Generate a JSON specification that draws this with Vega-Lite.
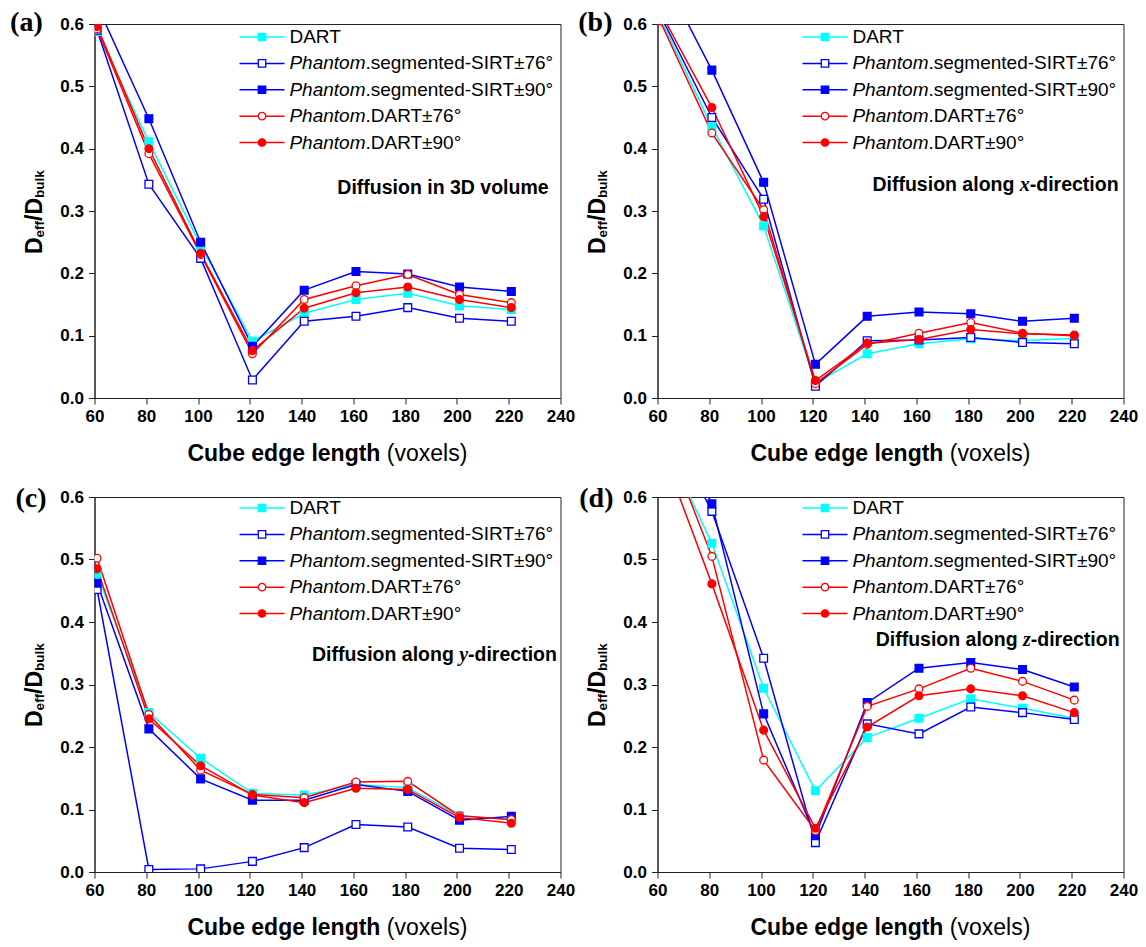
{
"$schema": "https://vega.github.io/schema/vega-lite/v6.json",
"background": "white",
"padding": {"left": 9.5, "top": 8, "right": 5, "bottom": 5},
"config": {
 "view": {"stroke": "#222", "strokeWidth": 1},
 "axis": {"domainColor": "#222", "tickColor": "#222", "labelFont": "Liberation Sans", "labelFontWeight": "bold", "labelFontSize": 17, "labelColor": "#000", "grid": false},
 "text": {"font": "Liberation Sans", "color": "#000"}
},
"datasets": {
 "main": [
  {"panel":"a","series":"DART","x":61,"v":0.588},{"panel":"a","series":"DART","x":81,"v":0.411},{"panel":"a","series":"DART","x":101,"v":0.245},{"panel":"a","series":"DART","x":121,"v":0.091},{"panel":"a","series":"DART","x":141,"v":0.136},{"panel":"a","series":"DART","x":161,"v":0.158},{"panel":"a","series":"DART","x":181,"v":0.168},{"panel":"a","series":"DART","x":201,"v":0.148},{"panel":"a","series":"DART","x":221,"v":0.142},
  {"panel":"a","series":"Phantom.segmented-SIRT±76°","x":61,"v":0.59},{"panel":"a","series":"Phantom.segmented-SIRT±76°","x":81,"v":0.343},{"panel":"a","series":"Phantom.segmented-SIRT±76°","x":101,"v":0.224},{"panel":"a","series":"Phantom.segmented-SIRT±76°","x":121,"v":0.029},{"panel":"a","series":"Phantom.segmented-SIRT±76°","x":141,"v":0.123},{"panel":"a","series":"Phantom.segmented-SIRT±76°","x":161,"v":0.131},{"panel":"a","series":"Phantom.segmented-SIRT±76°","x":181,"v":0.145},{"panel":"a","series":"Phantom.segmented-SIRT±76°","x":201,"v":0.128},{"panel":"a","series":"Phantom.segmented-SIRT±76°","x":221,"v":0.123},
  {"panel":"a","series":"Phantom.segmented-SIRT±90°","x":61,"v":0.63},{"panel":"a","series":"Phantom.segmented-SIRT±90°","x":81,"v":0.448},{"panel":"a","series":"Phantom.segmented-SIRT±90°","x":101,"v":0.25},{"panel":"a","series":"Phantom.segmented-SIRT±90°","x":121,"v":0.083},{"panel":"a","series":"Phantom.segmented-SIRT±90°","x":141,"v":0.173},{"panel":"a","series":"Phantom.segmented-SIRT±90°","x":161,"v":0.203},{"panel":"a","series":"Phantom.segmented-SIRT±90°","x":181,"v":0.199},{"panel":"a","series":"Phantom.segmented-SIRT±90°","x":201,"v":0.178},{"panel":"a","series":"Phantom.segmented-SIRT±90°","x":221,"v":0.171},
  {"panel":"a","series":"Phantom.DART±76°","x":61,"v":0.592},{"panel":"a","series":"Phantom.DART±76°","x":81,"v":0.392},{"panel":"a","series":"Phantom.DART±76°","x":101,"v":0.23},{"panel":"a","series":"Phantom.DART±76°","x":121,"v":0.071},{"panel":"a","series":"Phantom.DART±76°","x":141,"v":0.158},{"panel":"a","series":"Phantom.DART±76°","x":161,"v":0.18},{"panel":"a","series":"Phantom.DART±76°","x":181,"v":0.198},{"panel":"a","series":"Phantom.DART±76°","x":201,"v":0.166},{"panel":"a","series":"Phantom.DART±76°","x":221,"v":0.153},
  {"panel":"a","series":"Phantom.DART±90°","x":61,"v":0.596},{"panel":"a","series":"Phantom.DART±90°","x":81,"v":0.4},{"panel":"a","series":"Phantom.DART±90°","x":101,"v":0.232},{"panel":"a","series":"Phantom.DART±90°","x":121,"v":0.076},{"panel":"a","series":"Phantom.DART±90°","x":141,"v":0.144},{"panel":"a","series":"Phantom.DART±90°","x":161,"v":0.169},{"panel":"a","series":"Phantom.DART±90°","x":181,"v":0.178},{"panel":"a","series":"Phantom.DART±90°","x":201,"v":0.158},{"panel":"a","series":"Phantom.DART±90°","x":221,"v":0.145},

  {"panel":"b","series":"DART","x":61,"v":0.61},{"panel":"b","series":"DART","x":81,"v":0.435},{"panel":"b","series":"DART","x":101,"v":0.276},{"panel":"b","series":"DART","x":121,"v":0.024},{"panel":"b","series":"DART","x":141,"v":0.071},{"panel":"b","series":"DART","x":161,"v":0.087},{"panel":"b","series":"DART","x":181,"v":0.095},{"panel":"b","series":"DART","x":201,"v":0.092},{"panel":"b","series":"DART","x":221,"v":0.096},
  {"panel":"b","series":"Phantom.segmented-SIRT±76°","x":61,"v":0.615},{"panel":"b","series":"Phantom.segmented-SIRT±76°","x":81,"v":0.45},{"panel":"b","series":"Phantom.segmented-SIRT±76°","x":101,"v":0.319},{"panel":"b","series":"Phantom.segmented-SIRT±76°","x":121,"v":0.019},{"panel":"b","series":"Phantom.segmented-SIRT±76°","x":141,"v":0.092},{"panel":"b","series":"Phantom.segmented-SIRT±76°","x":161,"v":0.093},{"panel":"b","series":"Phantom.segmented-SIRT±76°","x":181,"v":0.097},{"panel":"b","series":"Phantom.segmented-SIRT±76°","x":201,"v":0.089},{"panel":"b","series":"Phantom.segmented-SIRT±76°","x":221,"v":0.087},
  {"panel":"b","series":"Phantom.segmented-SIRT±90°","x":61,"v":0.687},{"panel":"b","series":"Phantom.segmented-SIRT±90°","x":81,"v":0.526},{"panel":"b","series":"Phantom.segmented-SIRT±90°","x":101,"v":0.346},{"panel":"b","series":"Phantom.segmented-SIRT±90°","x":121,"v":0.054},{"panel":"b","series":"Phantom.segmented-SIRT±90°","x":141,"v":0.131},{"panel":"b","series":"Phantom.segmented-SIRT±90°","x":161,"v":0.138},{"panel":"b","series":"Phantom.segmented-SIRT±90°","x":181,"v":0.135},{"panel":"b","series":"Phantom.segmented-SIRT±90°","x":201,"v":0.123},{"panel":"b","series":"Phantom.segmented-SIRT±90°","x":221,"v":0.128},
  {"panel":"b","series":"Phantom.DART±76°","x":61,"v":0.605},{"panel":"b","series":"Phantom.DART±76°","x":81,"v":0.425},{"panel":"b","series":"Phantom.DART±76°","x":101,"v":0.302},{"panel":"b","series":"Phantom.DART±76°","x":121,"v":0.023},{"panel":"b","series":"Phantom.DART±76°","x":141,"v":0.086},{"panel":"b","series":"Phantom.DART±76°","x":161,"v":0.104},{"panel":"b","series":"Phantom.DART±76°","x":181,"v":0.121},{"panel":"b","series":"Phantom.DART±76°","x":201,"v":0.104},{"panel":"b","series":"Phantom.DART±76°","x":221,"v":0.1},
  {"panel":"b","series":"Phantom.DART±90°","x":61,"v":0.62},{"panel":"b","series":"Phantom.DART±90°","x":81,"v":0.466},{"panel":"b","series":"Phantom.DART±90°","x":101,"v":0.291},{"panel":"b","series":"Phantom.DART±90°","x":121,"v":0.028},{"panel":"b","series":"Phantom.DART±90°","x":141,"v":0.088},{"panel":"b","series":"Phantom.DART±90°","x":161,"v":0.094},{"panel":"b","series":"Phantom.DART±90°","x":181,"v":0.11},{"panel":"b","series":"Phantom.DART±90°","x":201,"v":0.103},{"panel":"b","series":"Phantom.DART±90°","x":221,"v":0.101},

  {"panel":"c","series":"DART","x":61,"v":0.477},{"panel":"c","series":"DART","x":81,"v":0.255},{"panel":"c","series":"DART","x":101,"v":0.182},{"panel":"c","series":"DART","x":121,"v":0.126},{"panel":"c","series":"DART","x":141,"v":0.123},{"panel":"c","series":"DART","x":161,"v":0.14},{"panel":"c","series":"DART","x":181,"v":0.135},{"panel":"c","series":"DART","x":201,"v":0.09},{"panel":"c","series":"DART","x":221,"v":0.084},
  {"panel":"c","series":"Phantom.segmented-SIRT±76°","x":61,"v":0.452},{"panel":"c","series":"Phantom.segmented-SIRT±76°","x":81,"v":0.004},{"panel":"c","series":"Phantom.segmented-SIRT±76°","x":101,"v":0.005},{"panel":"c","series":"Phantom.segmented-SIRT±76°","x":121,"v":0.017},{"panel":"c","series":"Phantom.segmented-SIRT±76°","x":141,"v":0.039},{"panel":"c","series":"Phantom.segmented-SIRT±76°","x":161,"v":0.076},{"panel":"c","series":"Phantom.segmented-SIRT±76°","x":181,"v":0.072},{"panel":"c","series":"Phantom.segmented-SIRT±76°","x":201,"v":0.038},{"panel":"c","series":"Phantom.segmented-SIRT±76°","x":221,"v":0.036},
  {"panel":"c","series":"Phantom.segmented-SIRT±90°","x":61,"v":0.462},{"panel":"c","series":"Phantom.segmented-SIRT±90°","x":81,"v":0.229},{"panel":"c","series":"Phantom.segmented-SIRT±90°","x":101,"v":0.149},{"panel":"c","series":"Phantom.segmented-SIRT±90°","x":121,"v":0.115},{"panel":"c","series":"Phantom.segmented-SIRT±90°","x":141,"v":0.115},{"panel":"c","series":"Phantom.segmented-SIRT±90°","x":161,"v":0.14},{"panel":"c","series":"Phantom.segmented-SIRT±90°","x":181,"v":0.129},{"panel":"c","series":"Phantom.segmented-SIRT±90°","x":201,"v":0.083},{"panel":"c","series":"Phantom.segmented-SIRT±90°","x":221,"v":0.089},
  {"panel":"c","series":"Phantom.DART±76°","x":61,"v":0.502},{"panel":"c","series":"Phantom.DART±76°","x":81,"v":0.252},{"panel":"c","series":"Phantom.DART±76°","x":101,"v":0.163},{"panel":"c","series":"Phantom.DART±76°","x":121,"v":0.124},{"panel":"c","series":"Phantom.DART±76°","x":141,"v":0.119},{"panel":"c","series":"Phantom.DART±76°","x":161,"v":0.144},{"panel":"c","series":"Phantom.DART±76°","x":181,"v":0.145},{"panel":"c","series":"Phantom.DART±76°","x":201,"v":0.09},{"panel":"c","series":"Phantom.DART±76°","x":221,"v":0.084},
  {"panel":"c","series":"Phantom.DART±90°","x":61,"v":0.485},{"panel":"c","series":"Phantom.DART±90°","x":81,"v":0.245},{"panel":"c","series":"Phantom.DART±90°","x":101,"v":0.17},{"panel":"c","series":"Phantom.DART±90°","x":121,"v":0.123},{"panel":"c","series":"Phantom.DART±90°","x":141,"v":0.111},{"panel":"c","series":"Phantom.DART±90°","x":161,"v":0.134},{"panel":"c","series":"Phantom.DART±90°","x":181,"v":0.132},{"panel":"c","series":"Phantom.DART±90°","x":201,"v":0.087},{"panel":"c","series":"Phantom.DART±90°","x":221,"v":0.078},

  {"panel":"d","series":"DART","x":61,"v":0.7},{"panel":"d","series":"DART","x":81,"v":0.526},{"panel":"d","series":"DART","x":101,"v":0.294},{"panel":"d","series":"DART","x":121,"v":0.13},{"panel":"d","series":"DART","x":141,"v":0.215},{"panel":"d","series":"DART","x":161,"v":0.246},{"panel":"d","series":"DART","x":181,"v":0.277},{"panel":"d","series":"DART","x":201,"v":0.262},{"panel":"d","series":"DART","x":221,"v":0.246},
  {"panel":"d","series":"Phantom.segmented-SIRT±76°","x":61,"v":0.74},{"panel":"d","series":"Phantom.segmented-SIRT±76°","x":81,"v":0.577},{"panel":"d","series":"Phantom.segmented-SIRT±76°","x":101,"v":0.342},{"panel":"d","series":"Phantom.segmented-SIRT±76°","x":121,"v":0.047},{"panel":"d","series":"Phantom.segmented-SIRT±76°","x":141,"v":0.237},{"panel":"d","series":"Phantom.segmented-SIRT±76°","x":161,"v":0.221},{"panel":"d","series":"Phantom.segmented-SIRT±76°","x":181,"v":0.264},{"panel":"d","series":"Phantom.segmented-SIRT±76°","x":201,"v":0.255},{"panel":"d","series":"Phantom.segmented-SIRT±76°","x":221,"v":0.244},
  {"panel":"d","series":"Phantom.segmented-SIRT±90°","x":61,"v":0.76},{"panel":"d","series":"Phantom.segmented-SIRT±90°","x":81,"v":0.589},{"panel":"d","series":"Phantom.segmented-SIRT±90°","x":101,"v":0.253},{"panel":"d","series":"Phantom.segmented-SIRT±90°","x":121,"v":0.058},{"panel":"d","series":"Phantom.segmented-SIRT±90°","x":141,"v":0.271},{"panel":"d","series":"Phantom.segmented-SIRT±90°","x":161,"v":0.326},{"panel":"d","series":"Phantom.segmented-SIRT±90°","x":181,"v":0.335},{"panel":"d","series":"Phantom.segmented-SIRT±90°","x":201,"v":0.324},{"panel":"d","series":"Phantom.segmented-SIRT±90°","x":221,"v":0.296},
  {"panel":"d","series":"Phantom.DART±76°","x":61,"v":0.718},{"panel":"d","series":"Phantom.DART±76°","x":81,"v":0.505},{"panel":"d","series":"Phantom.DART±76°","x":101,"v":0.179},{"panel":"d","series":"Phantom.DART±76°","x":121,"v":0.066},{"panel":"d","series":"Phantom.DART±76°","x":141,"v":0.265},{"panel":"d","series":"Phantom.DART±76°","x":161,"v":0.293},{"panel":"d","series":"Phantom.DART±76°","x":181,"v":0.326},{"panel":"d","series":"Phantom.DART±76°","x":201,"v":0.305},{"panel":"d","series":"Phantom.DART±76°","x":221,"v":0.275},
  {"panel":"d","series":"Phantom.DART±90°","x":61,"v":0.683},{"panel":"d","series":"Phantom.DART±90°","x":81,"v":0.461},{"panel":"d","series":"Phantom.DART±90°","x":101,"v":0.227},{"panel":"d","series":"Phantom.DART±90°","x":121,"v":0.07},{"panel":"d","series":"Phantom.DART±90°","x":141,"v":0.232},{"panel":"d","series":"Phantom.DART±90°","x":161,"v":0.282},{"panel":"d","series":"Phantom.DART±90°","x":181,"v":0.293},{"panel":"d","series":"Phantom.DART±90°","x":201,"v":0.282},{"panel":"d","series":"Phantom.DART±90°","x":221,"v":0.255}
 ],
 "legend": [
  {"series":"DART","rest":"DART"},
  {"series":"Phantom.segmented-SIRT±76°","rest":".segmented-SIRT±76°"},
  {"series":"Phantom.segmented-SIRT±90°","rest":".segmented-SIRT±90°"},
  {"series":"Phantom.DART±76°","rest":".DART±76°"},
  {"series":"Phantom.DART±90°","rest":".DART±90°"}
 ]
},
"columns": 2,
"spacing": {"row": 99, "column": 97},
"bounds": "flush",
"concat": [
 {"width": 466, "height": 374, "resolve": {"scale": {"y": "independent"}}, "layer": [
  {"layer": [
   {"data": {"name": "main"}, "transform": [{"filter": "datum.panel == 'a'"}], "mark": {"type": "line", "clip": true, "strokeWidth": 1.5},
    "encoding": {"x": {"field": "x", "type": "quantitative", "scale": {"domain": [60, 240]}, "axis": {"values": [60,80,100,120,140,160,180,200,220,240], "title": null, "tickSize": 6, "labelPadding": 4, "labelFlush": false, "labelOverlap": false}},
     "y": {"field": "v", "type": "quantitative", "scale": {"domain": [0, 0.6]}, "axis": {"values": [0,0.05,0.1,0.15,0.2,0.25,0.3,0.35,0.4,0.45,0.5,0.55,0.6], "title": null, "tickSize": {"condition": {"test": "round(datum.value*20) % 2 == 1", "value": 4}, "value": 6}, "labelExpr": "round(datum.value*20) % 2 == 0 ? format(datum.value, '.1f') : ''", "labelPadding": 5, "labelFlush": false, "labelOverlap": false}},
     "stroke": {"field": "series", "type": "nominal", "scale": {"domain": ["DART","Phantom.segmented-SIRT±76°","Phantom.segmented-SIRT±90°","Phantom.DART±76°","Phantom.DART±90°"], "range": ["#00FFFF","#0000FF","#0000FF","#FF0000","#FF0000"]}, "legend": null}}},
   {"data": {"name": "main"}, "transform": [{"filter": "datum.panel == 'a'"}], "mark": {"type": "point", "clip": true, "filled": true, "size": 60, "strokeWidth": 1.3, "opacity": 1},
    "encoding": {"x": {"field": "x", "type": "quantitative", "scale": {"domain": [60, 240]}},
     "y": {"field": "v", "type": "quantitative", "scale": {"domain": [0, 0.6]}},
     "shape": {"field": "series", "type": "nominal", "scale": {"domain": ["DART","Phantom.segmented-SIRT±76°","Phantom.segmented-SIRT±90°","Phantom.DART±76°","Phantom.DART±90°"], "range": ["square","square","square","circle","circle"]}, "legend": null},
     "fill": {"field": "series", "type": "nominal", "scale": {"domain": ["DART","Phantom.segmented-SIRT±76°","Phantom.segmented-SIRT±90°","Phantom.DART±76°","Phantom.DART±90°"], "range": ["#00FFFF","#FFFFFF","#0000FF","#FFFFFF","#FF0000"]}, "legend": null},
     "stroke": {"field": "series", "type": "nominal", "legend": null}}},
   {"data": {"values": [{}]}, "mark": {"type": "text", "text": "(a)", "font": "Liberation Serif", "fontWeight": "bold", "fontSize": 28, "align": "center", "baseline": "alphabetic"}, "encoding": {"x": {"datum": 33.7, "scale": {"domain": [60, 240]}}, "y": {"datum": 0.588, "scale": {"domain": [0, 0.6]}}}},
   {"data": {"values": [{}]}, "mark": {"type": "text", "text": "Diffusion in 3D volume", "fontWeight": "bold", "fontSize": 19.5, "align": "right", "baseline": "middle"}, "encoding": {"x": {"datum": 235.4, "scale": {"domain": [60, 240]}}, "y": {"datum": 0.337, "scale": {"domain": [0, 0.6]}}}},
   {"data": {"values": [{}]}, "mark": {"type": "text", "text": "D", "angle": 270, "fontWeight": "bold", "fontSize": 23, "align": "left", "baseline": "alphabetic"}, "encoding": {"x": {"datum": 39.8, "scale": {"domain": [60, 240]}}, "y": {"datum": 0.231, "scale": {"domain": [0, 0.6]}}}},
   {"data": {"values": [{}]}, "mark": {"type": "text", "text": "eff", "angle": 270, "fontWeight": "bold", "fontSize": 13.5, "align": "left", "baseline": "alphabetic"}, "encoding": {"x": {"datum": 40.45, "scale": {"domain": [60, 240]}}, "y": {"datum": 0.2576, "scale": {"domain": [0, 0.6]}}}},
   {"data": {"values": [{}]}, "mark": {"type": "text", "text": "/D", "angle": 270, "fontWeight": "bold", "fontSize": 23, "align": "left", "baseline": "alphabetic"}, "encoding": {"x": {"datum": 39.8, "scale": {"domain": [60, 240]}}, "y": {"datum": 0.2841, "scale": {"domain": [0, 0.6]}}}},
   {"data": {"values": [{}]}, "mark": {"type": "text", "text": "bulk", "angle": 270, "fontWeight": "bold", "fontSize": 13.5, "align": "left", "baseline": "alphabetic"}, "encoding": {"x": {"datum": 40.45, "scale": {"domain": [60, 240]}}, "y": {"datum": 0.321, "scale": {"domain": [0, 0.6]}}}},
   {"data": {"values": [{}]}, "mark": {"type": "text", "text": "Cube edge length", "fontWeight": "bold", "fontSize": 23, "align": "left", "baseline": "alphabetic"}, "encoding": {"x": {"datum": 95.9, "scale": {"domain": [60, 240]}}, "y": {"datum": -0.1003, "scale": {"domain": [0, 0.6]}}}},
   {"data": {"values": [{}]}, "mark": {"type": "text", "text": "(voxels)", "fontWeight": "normal", "fontSize": 23, "align": "left", "baseline": "alphabetic"}, "encoding": {"x": {"datum": 172.9, "scale": {"domain": [60, 240]}}, "y": {"datum": -0.1003, "scale": {"domain": [0, 0.6]}}}}
  ]},
  {"data": {"name": "legend"}, "layer": [
   {"mark": {"type": "rule", "strokeWidth": 1.5}, "encoding": {"x": {"datum": 116, "scale": {"domain": [60, 240]}}, "x2": {"datum": 133.4}, "y": {"field": "series", "type": "nominal", "scale": {"type": "point", "domain": ["DART","Phantom.segmented-SIRT±76°","Phantom.segmented-SIRT±90°","Phantom.DART±76°","Phantom.DART±90°"], "range": [13, 118.5], "padding": 0}, "axis": null}, "stroke": {"field": "series", "type": "nominal", "legend": null}}},
   {"mark": {"type": "point", "filled": true, "size": 55, "strokeWidth": 1.3, "opacity": 1}, "encoding": {"x": {"datum": 124.7, "scale": {"domain": [60, 240]}}, "y": {"field": "series", "type": "nominal", "axis": null}, "shape": {"field": "series", "type": "nominal", "legend": null}, "fill": {"field": "series", "type": "nominal", "legend": null}, "stroke": {"field": "series", "type": "nominal", "legend": null}}},
   {"transform": [{"filter": "datum.series == 'DART'"}], "mark": {"type": "text", "fontSize": 19, "align": "left", "baseline": "middle"}, "encoding": {"x": {"datum": 135.3, "scale": {"domain": [60, 240]}}, "y": {"field": "series", "type": "nominal", "axis": null}, "text": {"field": "rest"}}},
   {"transform": [{"filter": "datum.series != 'DART'"}], "mark": {"type": "text", "text": "Phantom", "fontStyle": "italic", "fontSize": 19, "align": "left", "baseline": "middle"}, "encoding": {"x": {"datum": 135.3, "scale": {"domain": [60, 240]}}, "y": {"field": "series", "type": "nominal", "axis": null}}},
   {"transform": [{"filter": "datum.series != 'DART'"}], "mark": {"type": "text", "fontSize": 19, "align": "left", "baseline": "middle"}, "encoding": {"x": {"datum": 164.66, "scale": {"domain": [60, 240]}}, "y": {"field": "series", "type": "nominal", "axis": null}, "text": {"field": "rest"}}}
  ]}
 ]},
 {"width": 466, "height": 374, "resolve": {"scale": {"y": "independent"}}, "layer": [
  {"layer": [
   {"data": {"name": "main"}, "transform": [{"filter": "datum.panel == 'b'"}], "mark": {"type": "line", "clip": true, "strokeWidth": 1.5},
    "encoding": {"x": {"field": "x", "type": "quantitative", "scale": {"domain": [60, 240]}, "axis": {"values": [60,80,100,120,140,160,180,200,220,240], "title": null, "tickSize": 6, "labelPadding": 4, "labelFlush": false, "labelOverlap": false}},
     "y": {"field": "v", "type": "quantitative", "scale": {"domain": [0, 0.6]}, "axis": {"values": [0,0.05,0.1,0.15,0.2,0.25,0.3,0.35,0.4,0.45,0.5,0.55,0.6], "title": null, "tickSize": {"condition": {"test": "round(datum.value*20) % 2 == 1", "value": 4}, "value": 6}, "labelExpr": "round(datum.value*20) % 2 == 0 ? format(datum.value, '.1f') : ''", "labelPadding": 5, "labelFlush": false, "labelOverlap": false}},
     "stroke": {"field": "series", "type": "nominal", "scale": {"domain": ["DART","Phantom.segmented-SIRT±76°","Phantom.segmented-SIRT±90°","Phantom.DART±76°","Phantom.DART±90°"], "range": ["#00FFFF","#0000FF","#0000FF","#FF0000","#FF0000"]}, "legend": null}}},
   {"data": {"name": "main"}, "transform": [{"filter": "datum.panel == 'b'"}], "mark": {"type": "point", "clip": true, "filled": true, "size": 60, "strokeWidth": 1.3, "opacity": 1},
    "encoding": {"x": {"field": "x", "type": "quantitative", "scale": {"domain": [60, 240]}},
     "y": {"field": "v", "type": "quantitative", "scale": {"domain": [0, 0.6]}},
     "shape": {"field": "series", "type": "nominal", "scale": {"domain": ["DART","Phantom.segmented-SIRT±76°","Phantom.segmented-SIRT±90°","Phantom.DART±76°","Phantom.DART±90°"], "range": ["square","square","square","circle","circle"]}, "legend": null},
     "fill": {"field": "series", "type": "nominal", "scale": {"domain": ["DART","Phantom.segmented-SIRT±76°","Phantom.segmented-SIRT±90°","Phantom.DART±76°","Phantom.DART±90°"], "range": ["#00FFFF","#FFFFFF","#0000FF","#FFFFFF","#FF0000"]}, "legend": null},
     "stroke": {"field": "series", "type": "nominal", "legend": null}}},
   {"data": {"values": [{}]}, "mark": {"type": "text", "text": "(b)", "font": "Liberation Serif", "fontWeight": "bold", "fontSize": 28, "align": "center", "baseline": "alphabetic"}, "encoding": {"x": {"datum": 36.0, "scale": {"domain": [60, 240]}}, "y": {"datum": 0.588, "scale": {"domain": [0, 0.6]}}}},
   {"data": {"values": [{}]}, "mark": {"type": "text", "text": "Diffusion along", "fontWeight": "bold", "fontSize": 19.5, "align": "right", "baseline": "middle"}, "encoding": {"x": {"datum": 197.85, "scale": {"domain": [60, 240]}}, "y": {"datum": 0.342, "scale": {"domain": [0, 0.6]}}}},
   {"data": {"values": [{}]}, "mark": {"type": "text", "text": "x", "font": "Liberation Serif", "fontStyle": "italic", "fontWeight": "bold", "fontSize": 20, "align": "right", "baseline": "middle"}, "encoding": {"x": {"datum": 203.8, "scale": {"domain": [60, 240]}}, "y": {"datum": 0.342, "scale": {"domain": [0, 0.6]}}}},
   {"data": {"values": [{}]}, "mark": {"type": "text", "text": "-direction", "fontWeight": "bold", "fontSize": 19.5, "align": "right", "baseline": "middle"}, "encoding": {"x": {"datum": 238.1, "scale": {"domain": [60, 240]}}, "y": {"datum": 0.342, "scale": {"domain": [0, 0.6]}}}},
   {"data": {"values": [{}]}, "mark": {"type": "text", "text": "D", "angle": 270, "fontWeight": "bold", "fontSize": 23, "align": "left", "baseline": "alphabetic"}, "encoding": {"x": {"datum": 39.8, "scale": {"domain": [60, 240]}}, "y": {"datum": 0.231, "scale": {"domain": [0, 0.6]}}}},
   {"data": {"values": [{}]}, "mark": {"type": "text", "text": "eff", "angle": 270, "fontWeight": "bold", "fontSize": 13.5, "align": "left", "baseline": "alphabetic"}, "encoding": {"x": {"datum": 40.45, "scale": {"domain": [60, 240]}}, "y": {"datum": 0.2576, "scale": {"domain": [0, 0.6]}}}},
   {"data": {"values": [{}]}, "mark": {"type": "text", "text": "/D", "angle": 270, "fontWeight": "bold", "fontSize": 23, "align": "left", "baseline": "alphabetic"}, "encoding": {"x": {"datum": 39.8, "scale": {"domain": [60, 240]}}, "y": {"datum": 0.2841, "scale": {"domain": [0, 0.6]}}}},
   {"data": {"values": [{}]}, "mark": {"type": "text", "text": "bulk", "angle": 270, "fontWeight": "bold", "fontSize": 13.5, "align": "left", "baseline": "alphabetic"}, "encoding": {"x": {"datum": 40.45, "scale": {"domain": [60, 240]}}, "y": {"datum": 0.321, "scale": {"domain": [0, 0.6]}}}},
   {"data": {"values": [{}]}, "mark": {"type": "text", "text": "Cube edge length", "fontWeight": "bold", "fontSize": 23, "align": "left", "baseline": "alphabetic"}, "encoding": {"x": {"datum": 95.9, "scale": {"domain": [60, 240]}}, "y": {"datum": -0.1003, "scale": {"domain": [0, 0.6]}}}},
   {"data": {"values": [{}]}, "mark": {"type": "text", "text": "(voxels)", "fontWeight": "normal", "fontSize": 23, "align": "left", "baseline": "alphabetic"}, "encoding": {"x": {"datum": 172.9, "scale": {"domain": [60, 240]}}, "y": {"datum": -0.1003, "scale": {"domain": [0, 0.6]}}}}
  ]},
  {"data": {"name": "legend"}, "layer": [
   {"mark": {"type": "rule", "strokeWidth": 1.5}, "encoding": {"x": {"datum": 116, "scale": {"domain": [60, 240]}}, "x2": {"datum": 133.4}, "y": {"field": "series", "type": "nominal", "scale": {"type": "point", "domain": ["DART","Phantom.segmented-SIRT±76°","Phantom.segmented-SIRT±90°","Phantom.DART±76°","Phantom.DART±90°"], "range": [13, 118.5], "padding": 0}, "axis": null}, "stroke": {"field": "series", "type": "nominal", "legend": null}}},
   {"mark": {"type": "point", "filled": true, "size": 55, "strokeWidth": 1.3, "opacity": 1}, "encoding": {"x": {"datum": 124.7, "scale": {"domain": [60, 240]}}, "y": {"field": "series", "type": "nominal", "axis": null}, "shape": {"field": "series", "type": "nominal", "legend": null}, "fill": {"field": "series", "type": "nominal", "legend": null}, "stroke": {"field": "series", "type": "nominal", "legend": null}}},
   {"transform": [{"filter": "datum.series == 'DART'"}], "mark": {"type": "text", "fontSize": 19, "align": "left", "baseline": "middle"}, "encoding": {"x": {"datum": 135.3, "scale": {"domain": [60, 240]}}, "y": {"field": "series", "type": "nominal", "axis": null}, "text": {"field": "rest"}}},
   {"transform": [{"filter": "datum.series != 'DART'"}], "mark": {"type": "text", "text": "Phantom", "fontStyle": "italic", "fontSize": 19, "align": "left", "baseline": "middle"}, "encoding": {"x": {"datum": 135.3, "scale": {"domain": [60, 240]}}, "y": {"field": "series", "type": "nominal", "axis": null}}},
   {"transform": [{"filter": "datum.series != 'DART'"}], "mark": {"type": "text", "fontSize": 19, "align": "left", "baseline": "middle"}, "encoding": {"x": {"datum": 164.66, "scale": {"domain": [60, 240]}}, "y": {"field": "series", "type": "nominal", "axis": null}, "text": {"field": "rest"}}}
  ]}
 ]},
 {"width": 466, "height": 375, "resolve": {"scale": {"y": "independent"}}, "layer": [
  {"layer": [
   {"data": {"name": "main"}, "transform": [{"filter": "datum.panel == 'c'"}], "mark": {"type": "line", "clip": true, "strokeWidth": 1.5},
    "encoding": {"x": {"field": "x", "type": "quantitative", "scale": {"domain": [60, 240]}, "axis": {"values": [60,80,100,120,140,160,180,200,220,240], "title": null, "tickSize": 6, "labelPadding": 4, "labelFlush": false, "labelOverlap": false}},
     "y": {"field": "v", "type": "quantitative", "scale": {"domain": [0, 0.6]}, "axis": {"values": [0,0.05,0.1,0.15,0.2,0.25,0.3,0.35,0.4,0.45,0.5,0.55,0.6], "title": null, "tickSize": {"condition": {"test": "round(datum.value*20) % 2 == 1", "value": 4}, "value": 6}, "labelExpr": "round(datum.value*20) % 2 == 0 ? format(datum.value, '.1f') : ''", "labelPadding": 5, "labelFlush": false, "labelOverlap": false}},
     "stroke": {"field": "series", "type": "nominal", "scale": {"domain": ["DART","Phantom.segmented-SIRT±76°","Phantom.segmented-SIRT±90°","Phantom.DART±76°","Phantom.DART±90°"], "range": ["#00FFFF","#0000FF","#0000FF","#FF0000","#FF0000"]}, "legend": null}}},
   {"data": {"name": "main"}, "transform": [{"filter": "datum.panel == 'c'"}], "mark": {"type": "point", "clip": true, "filled": true, "size": 60, "strokeWidth": 1.3, "opacity": 1},
    "encoding": {"x": {"field": "x", "type": "quantitative", "scale": {"domain": [60, 240]}},
     "y": {"field": "v", "type": "quantitative", "scale": {"domain": [0, 0.6]}},
     "shape": {"field": "series", "type": "nominal", "scale": {"domain": ["DART","Phantom.segmented-SIRT±76°","Phantom.segmented-SIRT±90°","Phantom.DART±76°","Phantom.DART±90°"], "range": ["square","square","square","circle","circle"]}, "legend": null},
     "fill": {"field": "series", "type": "nominal", "scale": {"domain": ["DART","Phantom.segmented-SIRT±76°","Phantom.segmented-SIRT±90°","Phantom.DART±76°","Phantom.DART±90°"], "range": ["#00FFFF","#FFFFFF","#0000FF","#FFFFFF","#FF0000"]}, "legend": null},
     "stroke": {"field": "series", "type": "nominal", "legend": null}}},
   {"data": {"values": [{}]}, "mark": {"type": "text", "text": "(c)", "font": "Liberation Serif", "fontWeight": "bold", "fontSize": 28, "align": "center", "baseline": "alphabetic"}, "encoding": {"x": {"datum": 35.5, "scale": {"domain": [60, 240]}}, "y": {"datum": 0.5845, "scale": {"domain": [0, 0.6]}}}},
   {"data": {"values": [{}]}, "mark": {"type": "text", "text": "Diffusion along", "fontWeight": "bold", "fontSize": 19.5, "align": "right", "baseline": "middle"}, "encoding": {"x": {"datum": 198.8, "scale": {"domain": [60, 240]}}, "y": {"datum": 0.348, "scale": {"domain": [0, 0.6]}}}},
   {"data": {"values": [{}]}, "mark": {"type": "text", "text": "y", "font": "Liberation Serif", "fontStyle": "italic", "fontWeight": "bold", "fontSize": 20, "align": "right", "baseline": "middle"}, "encoding": {"x": {"datum": 204.3, "scale": {"domain": [60, 240]}}, "y": {"datum": 0.348, "scale": {"domain": [0, 0.6]}}}},
   {"data": {"values": [{}]}, "mark": {"type": "text", "text": "-direction", "fontWeight": "bold", "fontSize": 19.5, "align": "right", "baseline": "middle"}, "encoding": {"x": {"datum": 238.6, "scale": {"domain": [60, 240]}}, "y": {"datum": 0.348, "scale": {"domain": [0, 0.6]}}}},
   {"data": {"values": [{}]}, "mark": {"type": "text", "text": "D", "angle": 270, "fontWeight": "bold", "fontSize": 23, "align": "left", "baseline": "alphabetic"}, "encoding": {"x": {"datum": 39.8, "scale": {"domain": [60, 240]}}, "y": {"datum": 0.232, "scale": {"domain": [0, 0.6]}}}},
   {"data": {"values": [{}]}, "mark": {"type": "text", "text": "eff", "angle": 270, "fontWeight": "bold", "fontSize": 13.5, "align": "left", "baseline": "alphabetic"}, "encoding": {"x": {"datum": 40.45, "scale": {"domain": [60, 240]}}, "y": {"datum": 0.2586, "scale": {"domain": [0, 0.6]}}}},
   {"data": {"values": [{}]}, "mark": {"type": "text", "text": "/D", "angle": 270, "fontWeight": "bold", "fontSize": 23, "align": "left", "baseline": "alphabetic"}, "encoding": {"x": {"datum": 39.8, "scale": {"domain": [60, 240]}}, "y": {"datum": 0.285, "scale": {"domain": [0, 0.6]}}}},
   {"data": {"values": [{}]}, "mark": {"type": "text", "text": "bulk", "angle": 270, "fontWeight": "bold", "fontSize": 13.5, "align": "left", "baseline": "alphabetic"}, "encoding": {"x": {"datum": 40.45, "scale": {"domain": [60, 240]}}, "y": {"datum": 0.3218, "scale": {"domain": [0, 0.6]}}}},
   {"data": {"values": [{}]}, "mark": {"type": "text", "text": "Cube edge length", "fontWeight": "bold", "fontSize": 23, "align": "left", "baseline": "alphabetic"}, "encoding": {"x": {"datum": 95.9, "scale": {"domain": [60, 240]}}, "y": {"datum": -0.1, "scale": {"domain": [0, 0.6]}}}},
   {"data": {"values": [{}]}, "mark": {"type": "text", "text": "(voxels)", "fontWeight": "normal", "fontSize": 23, "align": "left", "baseline": "alphabetic"}, "encoding": {"x": {"datum": 172.9, "scale": {"domain": [60, 240]}}, "y": {"datum": -0.1, "scale": {"domain": [0, 0.6]}}}}
  ]},
  {"data": {"name": "legend"}, "layer": [
   {"mark": {"type": "rule", "strokeWidth": 1.5}, "encoding": {"x": {"datum": 116, "scale": {"domain": [60, 240]}}, "x2": {"datum": 133.4}, "y": {"field": "series", "type": "nominal", "scale": {"type": "point", "domain": ["DART","Phantom.segmented-SIRT±76°","Phantom.segmented-SIRT±90°","Phantom.DART±76°","Phantom.DART±90°"], "range": [11, 116.5], "padding": 0}, "axis": null}, "stroke": {"field": "series", "type": "nominal", "legend": null}}},
   {"mark": {"type": "point", "filled": true, "size": 55, "strokeWidth": 1.3, "opacity": 1}, "encoding": {"x": {"datum": 124.7, "scale": {"domain": [60, 240]}}, "y": {"field": "series", "type": "nominal", "axis": null}, "shape": {"field": "series", "type": "nominal", "legend": null}, "fill": {"field": "series", "type": "nominal", "legend": null}, "stroke": {"field": "series", "type": "nominal", "legend": null}}},
   {"transform": [{"filter": "datum.series == 'DART'"}], "mark": {"type": "text", "fontSize": 19, "align": "left", "baseline": "middle"}, "encoding": {"x": {"datum": 135.3, "scale": {"domain": [60, 240]}}, "y": {"field": "series", "type": "nominal", "axis": null}, "text": {"field": "rest"}}},
   {"transform": [{"filter": "datum.series != 'DART'"}], "mark": {"type": "text", "text": "Phantom", "fontStyle": "italic", "fontSize": 19, "align": "left", "baseline": "middle"}, "encoding": {"x": {"datum": 135.3, "scale": {"domain": [60, 240]}}, "y": {"field": "series", "type": "nominal", "axis": null}}},
   {"transform": [{"filter": "datum.series != 'DART'"}], "mark": {"type": "text", "fontSize": 19, "align": "left", "baseline": "middle"}, "encoding": {"x": {"datum": 164.66, "scale": {"domain": [60, 240]}}, "y": {"field": "series", "type": "nominal", "axis": null}, "text": {"field": "rest"}}}
  ]}
 ]},
 {"width": 466, "height": 375, "resolve": {"scale": {"y": "independent"}}, "layer": [
  {"layer": [
   {"data": {"name": "main"}, "transform": [{"filter": "datum.panel == 'd'"}], "mark": {"type": "line", "clip": true, "strokeWidth": 1.5},
    "encoding": {"x": {"field": "x", "type": "quantitative", "scale": {"domain": [60, 240]}, "axis": {"values": [60,80,100,120,140,160,180,200,220,240], "title": null, "tickSize": 6, "labelPadding": 4, "labelFlush": false, "labelOverlap": false}},
     "y": {"field": "v", "type": "quantitative", "scale": {"domain": [0, 0.6]}, "axis": {"values": [0,0.05,0.1,0.15,0.2,0.25,0.3,0.35,0.4,0.45,0.5,0.55,0.6], "title": null, "tickSize": {"condition": {"test": "round(datum.value*20) % 2 == 1", "value": 4}, "value": 6}, "labelExpr": "round(datum.value*20) % 2 == 0 ? format(datum.value, '.1f') : ''", "labelPadding": 5, "labelFlush": false, "labelOverlap": false}},
     "stroke": {"field": "series", "type": "nominal", "scale": {"domain": ["DART","Phantom.segmented-SIRT±76°","Phantom.segmented-SIRT±90°","Phantom.DART±76°","Phantom.DART±90°"], "range": ["#00FFFF","#0000FF","#0000FF","#FF0000","#FF0000"]}, "legend": null}}},
   {"data": {"name": "main"}, "transform": [{"filter": "datum.panel == 'd'"}], "mark": {"type": "point", "clip": true, "filled": true, "size": 60, "strokeWidth": 1.3, "opacity": 1},
    "encoding": {"x": {"field": "x", "type": "quantitative", "scale": {"domain": [60, 240]}},
     "y": {"field": "v", "type": "quantitative", "scale": {"domain": [0, 0.6]}},
     "shape": {"field": "series", "type": "nominal", "scale": {"domain": ["DART","Phantom.segmented-SIRT±76°","Phantom.segmented-SIRT±90°","Phantom.DART±76°","Phantom.DART±90°"], "range": ["square","square","square","circle","circle"]}, "legend": null},
     "fill": {"field": "series", "type": "nominal", "scale": {"domain": ["DART","Phantom.segmented-SIRT±76°","Phantom.segmented-SIRT±90°","Phantom.DART±76°","Phantom.DART±90°"], "range": ["#00FFFF","#FFFFFF","#0000FF","#FFFFFF","#FF0000"]}, "legend": null},
     "stroke": {"field": "series", "type": "nominal", "legend": null}}},
   {"data": {"values": [{}]}, "mark": {"type": "text", "text": "(d)", "font": "Liberation Serif", "fontWeight": "bold", "fontSize": 28, "align": "center", "baseline": "alphabetic"}, "encoding": {"x": {"datum": 36.4, "scale": {"domain": [60, 240]}}, "y": {"datum": 0.5845, "scale": {"domain": [0, 0.6]}}}},
   {"data": {"values": [{}]}, "mark": {"type": "text", "text": "Diffusion along", "fontWeight": "bold", "fontSize": 19.5, "align": "right", "baseline": "middle"}, "encoding": {"x": {"datum": 199.1, "scale": {"domain": [60, 240]}}, "y": {"datum": 0.371, "scale": {"domain": [0, 0.6]}}}},
   {"data": {"values": [{}]}, "mark": {"type": "text", "text": "z", "font": "Liberation Serif", "fontStyle": "italic", "fontWeight": "bold", "fontSize": 20, "align": "right", "baseline": "middle"}, "encoding": {"x": {"datum": 204.2, "scale": {"domain": [60, 240]}}, "y": {"datum": 0.371, "scale": {"domain": [0, 0.6]}}}},
   {"data": {"values": [{}]}, "mark": {"type": "text", "text": "-direction", "fontWeight": "bold", "fontSize": 19.5, "align": "right", "baseline": "middle"}, "encoding": {"x": {"datum": 238.5, "scale": {"domain": [60, 240]}}, "y": {"datum": 0.371, "scale": {"domain": [0, 0.6]}}}},
   {"data": {"values": [{}]}, "mark": {"type": "text", "text": "D", "angle": 270, "fontWeight": "bold", "fontSize": 23, "align": "left", "baseline": "alphabetic"}, "encoding": {"x": {"datum": 39.8, "scale": {"domain": [60, 240]}}, "y": {"datum": 0.232, "scale": {"domain": [0, 0.6]}}}},
   {"data": {"values": [{}]}, "mark": {"type": "text", "text": "eff", "angle": 270, "fontWeight": "bold", "fontSize": 13.5, "align": "left", "baseline": "alphabetic"}, "encoding": {"x": {"datum": 40.45, "scale": {"domain": [60, 240]}}, "y": {"datum": 0.2586, "scale": {"domain": [0, 0.6]}}}},
   {"data": {"values": [{}]}, "mark": {"type": "text", "text": "/D", "angle": 270, "fontWeight": "bold", "fontSize": 23, "align": "left", "baseline": "alphabetic"}, "encoding": {"x": {"datum": 39.8, "scale": {"domain": [60, 240]}}, "y": {"datum": 0.285, "scale": {"domain": [0, 0.6]}}}},
   {"data": {"values": [{}]}, "mark": {"type": "text", "text": "bulk", "angle": 270, "fontWeight": "bold", "fontSize": 13.5, "align": "left", "baseline": "alphabetic"}, "encoding": {"x": {"datum": 40.45, "scale": {"domain": [60, 240]}}, "y": {"datum": 0.3218, "scale": {"domain": [0, 0.6]}}}},
   {"data": {"values": [{}]}, "mark": {"type": "text", "text": "Cube edge length", "fontWeight": "bold", "fontSize": 23, "align": "left", "baseline": "alphabetic"}, "encoding": {"x": {"datum": 95.9, "scale": {"domain": [60, 240]}}, "y": {"datum": -0.1, "scale": {"domain": [0, 0.6]}}}},
   {"data": {"values": [{}]}, "mark": {"type": "text", "text": "(voxels)", "fontWeight": "normal", "fontSize": 23, "align": "left", "baseline": "alphabetic"}, "encoding": {"x": {"datum": 172.9, "scale": {"domain": [60, 240]}}, "y": {"datum": -0.1, "scale": {"domain": [0, 0.6]}}}}
  ]},
  {"data": {"name": "legend"}, "layer": [
   {"mark": {"type": "rule", "strokeWidth": 1.5}, "encoding": {"x": {"datum": 116, "scale": {"domain": [60, 240]}}, "x2": {"datum": 133.4}, "y": {"field": "series", "type": "nominal", "scale": {"type": "point", "domain": ["DART","Phantom.segmented-SIRT±76°","Phantom.segmented-SIRT±90°","Phantom.DART±76°","Phantom.DART±90°"], "range": [11, 116.5], "padding": 0}, "axis": null}, "stroke": {"field": "series", "type": "nominal", "legend": null}}},
   {"mark": {"type": "point", "filled": true, "size": 55, "strokeWidth": 1.3, "opacity": 1}, "encoding": {"x": {"datum": 124.7, "scale": {"domain": [60, 240]}}, "y": {"field": "series", "type": "nominal", "axis": null}, "shape": {"field": "series", "type": "nominal", "legend": null}, "fill": {"field": "series", "type": "nominal", "legend": null}, "stroke": {"field": "series", "type": "nominal", "legend": null}}},
   {"transform": [{"filter": "datum.series == 'DART'"}], "mark": {"type": "text", "fontSize": 19, "align": "left", "baseline": "middle"}, "encoding": {"x": {"datum": 135.3, "scale": {"domain": [60, 240]}}, "y": {"field": "series", "type": "nominal", "axis": null}, "text": {"field": "rest"}}},
   {"transform": [{"filter": "datum.series != 'DART'"}], "mark": {"type": "text", "text": "Phantom", "fontStyle": "italic", "fontSize": 19, "align": "left", "baseline": "middle"}, "encoding": {"x": {"datum": 135.3, "scale": {"domain": [60, 240]}}, "y": {"field": "series", "type": "nominal", "axis": null}}},
   {"transform": [{"filter": "datum.series != 'DART'"}], "mark": {"type": "text", "fontSize": 19, "align": "left", "baseline": "middle"}, "encoding": {"x": {"datum": 164.66, "scale": {"domain": [60, 240]}}, "y": {"field": "series", "type": "nominal", "axis": null}, "text": {"field": "rest"}}}
  ]}
 ]}
]
}
